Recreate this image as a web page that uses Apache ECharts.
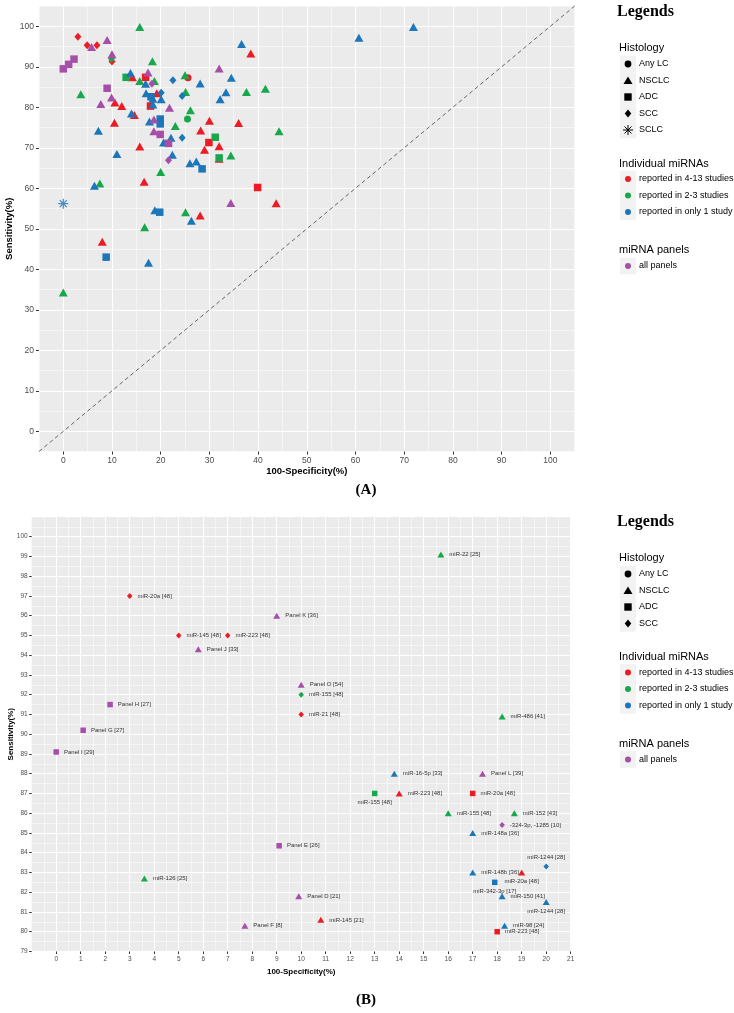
<!DOCTYPE html>
<html>
<head>
<meta charset="utf-8">
<script src="https://cdn.jsdelivr.net/npm/echarts@6/dist/echarts.min.js"></script>
<style>
  html, body { margin: 0; padding: 0; background: #fff; }
  #chart { width: 734px; height: 1013px; }
</style>
</head>
<body>
<div id="chart"></div>
<script>
// ---------- panel A: [100-specificity, sensitivity] ----------
const aRedDiamond = [[3.0, 97.4], [4.9, 95.3], [6.9, 95.3], [10.0, 91.3]]
const aRedTriangle = [[10.6, 81.2], [12.0, 80.3], [10.5, 76.2], [8.0, 46.8], [14.2, 87.4], [19.2, 83.5],
  [15.7, 70.3], [16.6, 61.6], [14.6, 78.1], [30.0, 76.7], [28.2, 74.3], [36.0, 76.1], [29.0, 69.5],
  [32.0, 70.4], [32.0, 67.3], [28.1, 53.3], [38.5, 93.3], [43.7, 56.3]]
const aRedSquare = [[16.9, 87.4], [17.9, 80.3], [29.9, 71.3], [39.9, 60.2]]
const aRedCircle = [[25.6, 87.3]]

const aGreenDiamond = [[9.9, 92.0]]
const aGreenTriangle = [[15.7, 99.8], [3.6, 83.2], [7.5, 61.2], [0, 34.3], [16.7, 50.4], [15.7, 86.5],
  [18.3, 91.4], [18.7, 86.5], [20.0, 64.0], [25.0, 87.9], [25.1, 83.8], [26.1, 79.3], [23.0, 75.4],
  [34.4, 68.1], [25.1, 54.1], [37.6, 83.8], [41.5, 84.6], [44.3, 74.1]]
const aGreenSquare = [[12.9, 87.4], [31.2, 72.6], [32.0, 67.5]]
const aGreenCircle = [[25.5, 77.1]]

const aBlueTriangle = [[7.2, 74.2], [11.0, 68.5], [6.4, 60.6], [17.5, 41.6], [13.8, 88.5], [16.9, 85.8],
  [17.0, 83.5], [18.4, 82.1], [20.1, 82.0], [18.4, 80.7], [17.7, 76.5], [20.6, 71.3], [22.1, 72.5],
  [22.4, 68.3], [18.8, 54.6], [14.0, 78.5], [28.1, 85.9], [34.5, 87.3], [32.2, 82.0], [33.4, 83.7],
  [26.0, 66.2], [27.3, 66.6], [26.3, 52.0], [36.6, 95.6], [60.7, 97.2], [71.9, 99.8]]
const aBlueSquare = [[8.8, 43.0], [18.0, 82.6], [19.9, 77.1], [19.9, 75.9], [28.5, 64.8], [19.8, 54.1]]
const aBlueDiamond = [[20.1, 83.6], [22.5, 86.7], [24.4, 82.8], [24.4, 72.5]]
const aBlueAsterisk = [[0, 56.2]]

const aPurpleTriangle = [[5.8, 94.9], [9.0, 96.6], [10.0, 93.1], [9.9, 82.4], [7.7, 80.8], [17.4, 88.6],
  [21.8, 79.9], [18.6, 77.0], [18.6, 74.1], [32.0, 89.6], [34.4, 56.4]]
const aPurpleSquare = [[0, 89.5], [1.1, 90.6], [2.2, 91.9], [9.0, 84.7], [19.9, 73.3], [21.6, 71.1]]
const aPurpleDiamond = [[18.2, 85.8], [21.6, 66.9]]

// ---------- panel B: [100-specificity, sensitivity, label] ----------
const bRedDiamond = [[3, 97, 'miR-20a [48]'], [5, 95, 'miR-145 [48]'], [7, 95, 'miR-223 [48]'], [10, 91, 'miR-21 [48]']]
const bRedTriangle = [[14, 87, 'miR-223 [48]'], [19, 83, 'miR-20a [48]'], [10.8, 80.6, 'miR-145 [21]']]
const bRedSquare = [[17, 87, 'miR-20a [48]'], [18, 80, 'miR-223 [48]']]
const bGreenTriangle = [[15.7, 99.1, 'miR-22 [25]'], [18.2, 90.9, 'miR-486 [41]'], [16, 86, 'miR-155 [48]'],
  [18.7, 86, 'miR-152 [43]'], [3.6, 82.7, 'miR-126 [25]']]
const bGreenSquare = [[13, 87, 'miR-155 [48]']]
const bGreenDiamond = [[10, 92, 'miR-155 [48]']]
const bBlueTriangle = [[13.8, 88, 'miR-16-5p [33]'], [17, 85, 'miR-148a [36]'], [17, 83, 'miR-148b [36]'],
  [18.2, 81.8, 'miR-150 [41]'], [20, 81.5, 'miR-1244 [28]'], [18.3, 80.3, 'miR-98 [24]']]
const bBlueSquare = [[17.9, 82.5, 'miR-342-3p [17]']]
const bBlueDiamond = [[20, 83.3, 'miR-1244 [28]']]
const bPurpleTriangle = [[9, 96, 'Panel K [36]'], [5.8, 94.3, 'Panel J [33]'], [10, 92.5, 'Panel O [54]'],
  [17.4, 88, 'Panel L [39]'], [9.9, 81.8, 'Panel D [21]'], [7.7, 80.3, 'Panel F [8]']]
const bPurpleSquare = [[2.2, 91.5, 'Panel H [27]'], [1.1, 90.2, 'Panel G [27]'], [0, 89.1, 'Panel I [29]'], [9.1, 84.35, 'Panel E [26]']]
const bPurpleDiamond = [[18.2, 85.4, '-324-3p, -1285 [10]']]

// tick labels
const xTicksA = [0, 10, 20, 30, 40, 50, 60, 70, 80, 90, 100]
const yTicksA = [0, 10, 20, 30, 40, 50, 60, 70, 80, 90, 100]
const xTicksB = [0, 1, 2, 3, 4, 5, 6, 7, 8, 9, 10, 11, 12, 13, 14, 15, 16, 17, 18, 19, 20, 21]
const yTicksB = [79, 80, 81, 82, 83, 84, 85, 86, 87, 88, 89, 90, 91, 92, 93, 94, 95, 96, 97, 98, 99, 100]

const histologyA = ['Any LC', 'NSCLC', 'ADC', 'SCC', 'SCLC']
const histologyB = ['Any LC', 'NSCLC', 'ADC', 'SCC']
const mirnaGroups = ['reported in 4-13 studies', 'reported in 2-3 studies', 'reported in only 1 study']
const panelGroups = ['all panels']

// label placement in panel B (style, keyed by point)
const bLabelPos = { '13,87': 'bottom', '19,83': 'bottom', '17.9,82.5': 'bottom', '20,81.5': 'bottom', '20,83.3': 'top' }

// ---------- layout ----------
const RED = '#ec1c24', GREEN = '#17a84b', BLUE = '#1c76ba', PURPLE = '#a64ea8'
const FONT = '"Liberation Sans", Arial, sans-serif'
const LA = { x0: 63.3, ux: 4.87, y0: 431.3, uy: 4.05 }   // panel A: pixel of 0, px per unit
const LB = { x0: 56.2, ux: 24.5, y0: 536.7, uy: 19.75 }  // panel B: pixel of 0 (x) / 100 (y)
const pxA = v => LA.x0 + LA.ux * v, pyA = v => LA.y0 - LA.uy * v
const pxB = v => LB.x0 + LB.ux * v, pyB = v => LB.y0 - LB.uy * (v - 100)

const STAR = 'path://M5 0L5 10M0 5L10 5M1.5 1.5L8.5 8.5M1.5 8.5L8.5 1.5'
const shapes = {
  tri: { symbol: 'triangle', a: [9, 8], b: [7, 6] },
  sq: { symbol: 'rect', a: 7.5, b: 5.5 },
  dia: { symbol: 'diamond', a: [7, 8], b: [5.5, 6] },
  circ: { symbol: 'circle', a: 7, b: 6 },
  star: { symbol: STAR, a: 10, b: 8 }
}

function seriesA(data, color, shape) {
  const s = {
    type: 'scatter', xAxisIndex: 0, yAxisIndex: 0, data: data, silent: true,
    symbol: shapes[shape].symbol, symbolSize: shapes[shape].a,
    itemStyle: { color: color, opacity: 1 }
  }
  if (shape === 'star') s.itemStyle = { color: 'none', borderColor: color, borderWidth: 1.2 }
  return s
}

function seriesB(rows, color, shape) {
  return {
    type: 'scatter', xAxisIndex: 1, yAxisIndex: 1, silent: true,
    symbol: shapes[shape].symbol, symbolSize: shapes[shape].b,
    itemStyle: { color: color, opacity: 1 },
    label: { show: true, position: 'right', distance: 5, formatter: '{b}', fontSize: 6, color: '#333', fontFamily: FONT },
    data: rows.map(r => {
      const item = { value: [r[0], r[1]], name: r[2] }
      const pos = bLabelPos[r[0] + ',' + r[1]]
      if (pos) item.label = { position: pos, distance: 3 }
      return item
    })
  }
}

function axis(extra) {
  return Object.assign({
    type: 'value',
    axisLine: { show: false, onZero: false },
    axisTick: { show: true, length: 3, lineStyle: { color: '#333', width: 1 } },
    axisLabel: { color: '#4d4d4d', fontFamily: FONT },
    splitLine: { show: true, lineStyle: { color: '#ffffff', width: 1 } },
    minorTick: { show: false, splitNumber: 2 },
    minorSplitLine: { show: true, lineStyle: { color: '#ffffff', width: 0.5 } },
    nameLocation: 'middle',
    nameMoveOverlap: false,
    nameTextStyle: { color: '#000', fontWeight: 'bold', fontFamily: FONT }
  }, extra)
}

// ---------- legends (drawn as graphics) ----------
function txt(s, x, y, font, align) {
  return { type: 'text', x: x, y: y, silent: true,
    style: { text: s, font: font, fill: '#000', textAlign: align || 'left', textVerticalAlign: 'middle' } }
}
function keySymbol(kind, cx, cy, color) {
  if (kind === 'Any LC' || kind === 'dot') return { type: 'circle', shape: { cx: cx, cy: cy, r: kind === 'dot' ? 3 : 3.4 }, style: { fill: color } }
  if (kind === 'NSCLC') return { type: 'polygon', shape: { points: [[cx - 4.5, cy + 3.5], [cx + 4.5, cy + 3.5], [cx, cy - 4]] }, style: { fill: color } }
  if (kind === 'ADC') return { type: 'rect', shape: { x: cx - 3.7, y: cy - 3.7, width: 7.4, height: 7.4 }, style: { fill: color } }
  if (kind === 'SCC') return { type: 'polygon', shape: { points: [[cx, cy - 4], [cx + 3.3, cy], [cx, cy + 4], [cx - 3.3, cy]] }, style: { fill: color } }
  return { type: 'group', children: [
    { type: 'line', shape: { x1: cx - 5, y1: cy, x2: cx + 5, y2: cy }, style: { stroke: color, lineWidth: 1 } },
    { type: 'line', shape: { x1: cx, y1: cy - 5, x2: cx, y2: cy + 5 }, style: { stroke: color, lineWidth: 1 } },
    { type: 'line', shape: { x1: cx - 3.5, y1: cy - 3.5, x2: cx + 3.5, y2: cy + 3.5 }, style: { stroke: color, lineWidth: 1 } },
    { type: 'line', shape: { x1: cx - 3.5, y1: cy + 3.5, x2: cx + 3.5, y2: cy - 3.5 }, style: { stroke: color, lineWidth: 1 } }
  ] }
}
function legendBlock(top, hist) {
  const els = []
  const boxX = 620, boxW = 16, row = 16.5, labX = 639
  els.push(txt('Legends', 617, top, 'bold 16px "Liberation Serif", serif'))
  let y = top + 36
  els.push(txt('Histology', 619, y, '11px ' + FONT))
  y += 16
  hist.forEach(h => {
    els.push({ type: 'rect', shape: { x: boxX, y: y - row / 2, width: boxW, height: row }, style: { fill: '#f2f2f2' } })
    els.push(keySymbol(h, boxX + boxW / 2, y, '#000'))
    els.push(txt(h, labX, y, '9px ' + FONT))
    y += row
  })
  y += 17
  els.push(txt('Individual miRNAs', 619, y, '11px ' + FONT))
  y += 15.5
  ;[RED, GREEN, BLUE].forEach((c, i) => {
    els.push({ type: 'rect', shape: { x: boxX, y: y - row / 2, width: boxW, height: row }, style: { fill: '#f2f2f2' } })
    els.push(keySymbol('dot', boxX + boxW / 2, y, c))
    els.push(txt(mirnaGroups[i], labX, y, '9px ' + FONT))
    y += row
  })
  y += 21.5
  els.push(txt('miRNA panels', 619, y, '11px ' + FONT))
  y += 16
  els.push({ type: 'rect', shape: { x: boxX, y: y - row / 2, width: boxW, height: row }, style: { fill: '#f2f2f2' } })
  els.push(keySymbol('dot', boxX + boxW / 2, y, PURPLE))
  els.push(txt(panelGroups[0], labX, y, '9px ' + FONT))
  return els
}

const graphics = [
  { type: 'rect', z: -10, silent: true, shape: { x: pxA(-5), y: pyA(105), width: pxA(105) - pxA(-5), height: pyA(-5) - pyA(105) }, style: { fill: '#ebebeb' } },
  { type: 'rect', z: -10, silent: true, shape: { x: pxB(-1), y: pyB(101), width: pxB(21) - pxB(-1), height: pyB(79) - pyB(101) }, style: { fill: '#ebebeb' } },
  txt('(A)', 366, 490, 'bold 15px "Liberation Serif", serif', 'center'),
  txt('(B)', 366, 1000, 'bold 15px "Liberation Serif", serif', 'center')
].concat(legendBlock(12, histologyA), legendBlock(522, histologyB))

const option = {
  animation: false,
  backgroundColor: '#fff',
  textStyle: { fontFamily: FONT },
  grid: [
    { left: pxA(-10), top: pyA(110), width: 120 * LA.ux, height: 120 * LA.uy, containLabel: false, outerBoundsMode: 'none' },
    { left: pxB(-1), top: pyB(101), width: pxB(21) - pxB(-1), height: pyB(79) - pyB(101), containLabel: false, outerBoundsMode: 'none' }
  ],
  xAxis: [
    axis({ gridIndex: 0, min: -10, max: 110, interval: 10, offset: -5 * LA.uy,
      axisTick: { show: true, length: 3, customValues: xTicksA, lineStyle: { color: '#333' } },
      axisLabel: { customValues: xTicksA, fontSize: 8.5, color: '#4d4d4d', margin: 5 },
      name: '100-Specificity(%)', nameGap: 15, nameTextStyle: { fontSize: 9.5, fontWeight: 'bold', color: '#000' } }),
    axis({ gridIndex: 1, min: -1, max: 21, interval: 1,
      axisTick: { show: true, length: 2.5, customValues: xTicksB, lineStyle: { color: '#333' } },
      axisLabel: { customValues: xTicksB, fontSize: 6.5, color: '#4d4d4d', margin: 4 },
      name: '100-Specificity(%)', nameGap: 16.5, nameTextStyle: { fontSize: 8, fontWeight: 'bold', color: '#000' } })
  ],
  yAxis: [
    axis({ gridIndex: 0, min: -10, max: 110, interval: 10, offset: -5 * LA.ux,
      axisTick: { show: true, length: 3, customValues: yTicksA, lineStyle: { color: '#333' } },
      axisLabel: { customValues: yTicksA, fontSize: 8.5, color: '#4d4d4d', margin: 5 },
      name: 'Sensitivity(%)', nameGap: 25, nameTextStyle: { fontSize: 9.5, fontWeight: 'bold', color: '#000' } }),
    axis({ gridIndex: 1, min: 79, max: 101, interval: 1,
      axisTick: { show: true, length: 2.5, customValues: yTicksB, lineStyle: { color: '#333' } },
      axisLabel: { customValues: yTicksB, fontSize: 6.5, color: '#4d4d4d', margin: 4 },
      name: 'Sensitivity(%)', nameGap: 16.5, nameTextStyle: { fontSize: 8, fontWeight: 'bold', color: '#000' } })
  ],
  graphic: graphics,
  series: [
    { type: 'line', xAxisIndex: 0, yAxisIndex: 0, data: [[-5, -5], [105, 105]], symbol: 'none', silent: true,
      lineStyle: { color: '#444', width: 0.8, type: [4, 3] } },
    seriesA(aRedDiamond, RED, 'dia'), seriesA(aRedTriangle, RED, 'tri'), seriesA(aRedSquare, RED, 'sq'), seriesA(aRedCircle, RED, 'circ'),
    seriesA(aGreenDiamond, GREEN, 'dia'), seriesA(aGreenTriangle, GREEN, 'tri'), seriesA(aGreenSquare, GREEN, 'sq'), seriesA(aGreenCircle, GREEN, 'circ'),
    seriesA(aBlueTriangle, BLUE, 'tri'), seriesA(aBlueSquare, BLUE, 'sq'), seriesA(aBlueDiamond, BLUE, 'dia'), seriesA(aBlueAsterisk, BLUE, 'star'),
    seriesA(aPurpleTriangle, PURPLE, 'tri'), seriesA(aPurpleSquare, PURPLE, 'sq'), seriesA(aPurpleDiamond, PURPLE, 'dia'),
    seriesB(bRedDiamond, RED, 'dia'), seriesB(bRedTriangle, RED, 'tri'), seriesB(bRedSquare, RED, 'sq'),
    seriesB(bGreenTriangle, GREEN, 'tri'), seriesB(bGreenSquare, GREEN, 'sq'), seriesB(bGreenDiamond, GREEN, 'dia'),
    seriesB(bBlueTriangle, BLUE, 'tri'), seriesB(bBlueSquare, BLUE, 'sq'), seriesB(bBlueDiamond, BLUE, 'dia'),
    seriesB(bPurpleTriangle, PURPLE, 'tri'), seriesB(bPurpleSquare, PURPLE, 'sq'), seriesB(bPurpleDiamond, PURPLE, 'dia')
  ]
}

const myChart = echarts.init(document.getElementById('chart'), null, { renderer: 'canvas' })
myChart.setOption(option)
</script>
</body>
</html>
